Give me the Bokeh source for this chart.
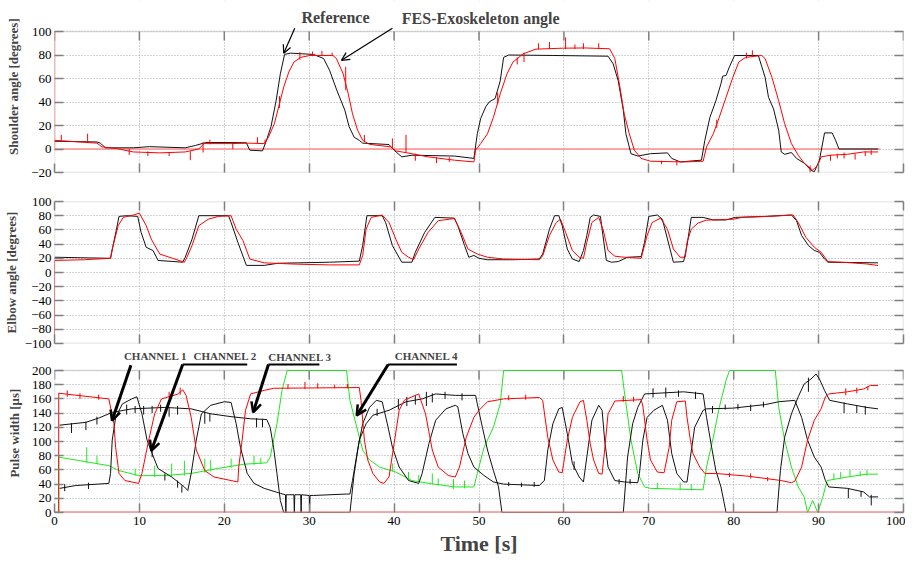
from bokeh.plotting import figure
from bokeh.models import Range1d, FixedTicker, LinearAxis, Label, Arrow, OpenHead, BoxAnnotation
from bokeh.layouts import column
from bokeh.embed import file_html
from bokeh.resources import INLINE

# ---------------- data ----------------
X_TICKS = [0, 10, 20, 30, 40, 50, 60, 70, 80, 90, 100]
SHOULDER_TICKS = [-20, 0, 20, 40, 60, 80, 100]
ELBOW_TICKS = [-100, -80, -60, -40, -20, 0, 20, 40, 60, 80, 100]
PULSE_TICKS = [0, 20, 40, 60, 80, 100, 120, 140, 160, 180, 200]

SHOULDER_T_REF = [0, 5, 5.4, 6, 9.3, 11.2, 15.4, 16.6, 17.8, 20.8, 22.6, 23, 24.5, 24.9, 25.5, 26.1, 26.6, 27.1, 27.8, 30.5,
                  31.7, 32.4, 33.2, 34.2, 34.7, 35.3, 35.9, 36.3, 39.4, 40, 40.9, 42.1, 47.1, 49.4, 49.8, 50.2, 50.8, 51.2,
                  51.9, 52.5, 52.9, 53.5, 58.7, 65.2, 65.8, 66.4, 67, 67.3, 67.9, 68.7, 70.2, 72.2, 72.7, 73.7, 76.2, 76.6,
                  77.2, 77.9, 78.5, 78.7, 79.1, 79.5, 80.1, 82.9, 83.7, 84.1, 84.7, 85.3, 85.6, 86, 86.8, 87.4, 88.3, 89.1,
                  89.5, 90.1, 90.7, 91.6, 92, 92.4, 97]
SHOULDER_V_REF = [6.6, 6, 5, 1, 1, 2, 1, 3, 5.5, 5.5, 5.3, -1, -1.6, 6, 19, 41, 64, 80.5, 81.6, 80.5, 77, 67, 51, 33, 19,
                  10, 7.4, 5, 3.8, -1, -6.7, -5.3, -6, -8, 13, 26, 36, 40, 43, 58, 78, 80, 79.6, 79, 72.5, 58, 33, 13, -4,
                  -6, -4, -3.3, -8, -11, -9.5, 7.4, 27, 41, 55.6, 62, 62.6, 70, 79.6, 79.6, 61, 44, 34, 16, -2.5, -4.5, -3,
                  -8, -12, -18, -19.4, -9.5, 13.7, 13.7, 7.4, 0, 0]

SHOULDER_T_FES = [0, 5, 5.6, 7.3, 9.3, 12.4, 15.4, 17, 17.6, 20.8, 22.8, 24.7, 25.2, 25.9, 26.4, 27, 27.6, 28.2, 29, 30.1,
                  32.8, 33.2, 34, 34.6, 35.1, 35.7, 36.3, 37.1, 39.6, 40.2, 42.1, 44, 47.1, 49.4, 49.6, 50.2, 51, 51.7,
                  52.5, 53.3, 54, 55.2, 56.7, 59.8, 62.5, 65.4, 66, 66.6, 67.1, 67.7, 68.3, 69.1, 70.2, 74.1, 76.4, 76.8,
                  77.6, 78.3, 79.1, 79.9, 80.6, 81.4, 83.3, 83.7, 84.5, 85.3, 86, 86.8, 87.6, 88.3, 89.3, 89.9, 90.3, 91.4,
                  93.4, 95.3, 97]
SHOULDER_V_FES = [7.4, 5, 1.8, 0.4, -2.5, -3.3, -2.5, 0, 4.6, 4.6, 5, 4.6, 10, 21.6, 35.7, 52.7, 65.5, 74, 78, 79.6, 79.6,
                  77, 64, 47, 30, 16, 7.4, 4, 1.8, -1.6, -4, -6.7, -9.5, -11, -1, 4.6, 13, 27, 47, 64, 74, 81, 85, 85.8,
                  86, 85.3, 77, 52.7, 30, 13, -1, -8, -10.4, -11, -10.4, 1.8, 13, 27, 44, 61, 74, 78, 79.6, 77, 61, 41,
                  21.6, 4.6, -5.3, -12, -18, -13.8, -6.7, -5.3, -4.5, -2.5, -2.5]
# sensor noise spikes on the FES trace: time, low end, high end
SHOULDER_SPK_T = [0.8, 3.9, 8.8, 11.0, 13.5, 16.0, 17.5, 18.3, 21.0, 23.9, 24.8, 26.5, 28.9, 30.4, 31.5, 32.7, 34.3, 36.5,
                  39.8, 41.4, 42.5, 45.0, 46.5, 52.2, 54.5, 55.3, 57.0, 58.3, 60.2, 61.3, 62.3, 64.1, 71.5, 73.3, 78.0,
                  81.5, 82.2, 89.0, 91.4, 92.2, 93.0, 94.3, 95.5, 96.2]
SHOULDER_SPK_LO = [7, 6, -5, -6, -6, -9.5, -3, 4, 0, 5, 4, 35, 76, 79, 79, 79, 50, 6, 0, -3, -10, -12, -11, 38, 72, 74, 85,
                   85, 85, 85, 85, 85, -13, -14, 18, 77, 79, -20, -10, -8, -8, -9, -6, -5]
SHOULDER_SPK_HI = [12, 13, 0, -2, -3, -2, 6, 8, 5, 10, 8, 45, 82.5, 83, 83.5, 82, 70, 12, 9, 12, -4, -7, -7, 48, 78, 82, 90,
                   91, 95, 89, 90, 90, -10, -10, 25, 82, 84, -14, -5, -4, -3, -4, -2, -1]

SHOULDER_BASE_T = [0, 0, 97.3]
SHOULDER_BASE_V = [100, 0, 0]

ELBOW_T_REF = [0, 6.6, 6.9, 7.3, 7.6, 8.5, 9.8, 10.2, 10.8, 11.6, 12.2, 15.1, 15.4, 16.2, 17, 20.5, 20.8, 21.6, 22.6, 24.7,
               26.3, 32.4, 35.9, 36.3, 36.8, 38.6, 39, 39.8, 40.9, 42.1, 42.5, 43.6, 44.8, 47.1, 47.5, 48.3, 48.8, 49.4,
               50, 51, 54, 57.1, 57.5, 58.3, 58.9, 59.4, 59.8, 60.4, 61, 61.8, 62.3, 62.7, 63.1, 63.5, 64.3, 64.6, 65,
               65.6, 66.4, 67.5, 69.1, 69.5, 70, 71, 71.6, 72.2, 72.9, 74.1, 74.5, 75, 76.4, 77.6, 79.1, 80.2, 83.7,
               86.8, 87.4, 88, 88.8, 89.5, 90.1, 90.7, 91.1, 97]
ELBOW_V_REF = [21.5, 20, 38, 61, 79, 80, 79, 56.5, 35.5, 31, 17, 14.5, 21.5, 47, 80, 80, 70.5, 42.5, 10, 10, 13, 14.5, 16,
               38, 80, 80, 70.5, 38, 14.5, 14.5, 28.5, 56.5, 77.6, 76.6, 66, 38, 21.5, 24, 20, 18, 18, 19, 26, 61, 80, 80,
               66, 33, 19, 15.4, 31, 52, 77.6, 81, 79, 52, 17, 14.5, 15.4, 21.5, 22.4, 42.5, 79, 81, 75, 47, 14.5, 15.4,
               38, 77.6, 77.6, 74, 74, 77.6, 79, 81, 73, 52, 38, 31, 28.5, 19, 14.5, 13.6]

ELBOW_T_FES = [0, 0, 3.5, 6.6, 6.8, 7.1, 7.5, 8.1, 9.3, 10, 10.8, 11.4, 12.4, 13.9, 15.3, 15.6, 16.2, 17, 18.1, 19.3, 20.8,
               21.4, 22.2, 23, 24.7, 28.6, 32.4, 35.9, 36.3, 36.7, 37.3, 38.6, 39.4, 40.2, 40.9, 41.7, 42.3, 42.9, 44,
               45.2, 47.1, 47.9, 48.7, 49.8, 51, 52.9, 57.1, 57.5, 58.3, 59.1, 59.6, 60.2, 61, 61.8, 62.3, 62.7, 63.3,
               64.1, 64.6, 65.2, 66, 67.1, 69.1, 69.8, 70.4, 71.4, 72.2, 72.9, 73.7, 74.3, 74.5, 75, 75.8, 76.8, 79.9,
               81, 84.1, 87, 87.6, 88.5, 89.5, 90.3, 91.1, 93.4, 95.7, 97]
ELBOW_V_FES = [-100, 17, 18, 20, 33, 47, 66, 77.6, 81, 83.6, 66, 47, 26, 20, 14.5, 21.5, 38, 66, 75, 79, 80, 61, 45, 19,
               13.6, 11.7, 10.7, 10.7, 23.8, 61, 77.6, 81, 70.5, 47, 28.5, 21.5, 18, 33, 56.5, 73, 76, 56.5, 33, 26, 21.5,
               19, 18, 23.5, 52, 70.5, 75, 56.5, 31, 21.5, 20, 42.5, 70.5, 77.6, 61, 31, 23, 21.5, 20, 52, 70.5, 76.6, 61,
               33, 21.5, 21.5, 42.5, 61, 69.6, 73.8, 75, 77.6, 79, 81, 70.5, 49.5, 35.5, 28.5, 15.4, 14, 12, 9.8]

PW_T_RED = [0.5, 0.5, 6.4, 7.0, 7.2, 7.6, 8.3, 9.9, 10.3, 11.1, 11.8, 12.6, 14.6, 15.1, 15.5, 16.1, 16.7, 17.7, 18.8, 20.8,
            21.6, 21.7, 22.1, 22.5, 23.1, 24.7, 25.8, 35.9, 36.1, 36.5, 36.9, 37.5, 38.3, 38.8, 39.4, 40, 40.6, 41.2,
            42.1, 42.9, 43.7, 44.5, 45.2, 46.4, 47.2, 47.7, 48.5, 49.4, 50, 51, 52.9, 57.1, 57.5, 58.1, 58.7, 59.4,
            59.8, 60.4, 61, 61.9, 62.3, 62.7, 63.1, 63.5, 64.1, 64.5, 64.8, 65.2, 66, 69.1, 69.3, 69.8, 70.2, 71, 71.8,
            72.4, 72.7, 73.3, 74.3, 74.5, 74.9, 75.2, 76, 76.6, 77.9, 81.8, 85.6, 86.8, 87.2, 88, 88.7, 89.5, 90.3,
            90.8, 91.2, 93.4, 95.3, 96.1, 97]
PW_V_RED = [0, 168, 160, 125, 92, 55, 45, 41, 55, 102, 139, 160, 167, 173, 165, 134, 88, 59, 50, 45, 43, 64, 102, 144, 167,
            172, 175, 176, 158, 102, 74, 55, 43, 41, 50, 97, 144, 158, 163, 167, 139, 88, 64, 52, 50, 64, 106, 134, 144,
            156, 160, 162, 158, 106, 74, 57, 56, 102, 134, 156, 158, 130, 97, 74, 55, 54, 88, 139, 157, 159, 150, 102,
            74, 57, 56, 92, 130, 156, 157, 134, 102, 83, 64, 55, 55, 51, 45, 42, 44, 64, 102, 130, 146, 163, 167, 170,
            174, 179, 179]
PW_RED_SPK_T = [1.5, 3.0, 5.2, 13.5, 14.8, 27.5, 29.5, 31.0, 33.0, 34.5, 53.5, 55.5, 67.0, 68.2, 79.5, 82.0, 84.0, 93.2,
                94.5, 95.8]
PW_RED_SPK_LO = [163, 160, 159, 162, 166, 174, 174, 175, 175, 175, 158, 159, 156, 156, 50, 48, 44, 165, 168, 172]
PW_RED_SPK_HI = [172, 168, 166, 170, 176, 181, 184, 182, 180, 181, 165, 166, 164, 163, 56, 55, 50, 175, 176, 178]

PW_T_GRN = [0.5, 0.5, 6.4, 7.6, 9.9, 13, 16.1, 19.2, 22.3, 25, 25.4, 26.2, 26.8, 27.4, 34.4, 34.8, 35.5, 36.3, 37.1, 38.3,
            40.2, 42.1, 44.1, 47.2, 49.4, 49.8, 50.6, 51.7, 52.5, 52.9, 66.8, 67.1, 67.9, 68.7, 69.5, 70.2, 76.4, 76.8,
            77.6, 78.3, 79.1, 79.5, 84.9, 85.3, 86, 86.8, 87.6, 88.3, 88.7, 89.3, 89.9, 90.5, 91, 93.4, 95.7, 97]
PW_V_GRN = [0, 78, 66, 59, 52, 52, 55, 62, 68, 70, 78, 125, 172, 200, 200, 158, 125, 88, 74, 64, 57, 45, 41, 36, 36, 55,
            92, 120, 153, 200, 200, 172, 102, 55, 36, 34, 32, 64, 106, 148, 186, 200, 200, 148, 102, 64, 36, 22, 0, 17,
            0, 22, 45, 50, 54, 54]
PW_GRN_SPK_T = [3.8, 5.0, 9.5, 11.8, 13.8, 15.3, 17.7, 18.4, 20.8, 23.5, 24.3, 39.8, 41.7, 42.9, 44.5, 45.2, 47.0, 48.3,
                71.0, 73.7, 75.0, 91.8, 92.6, 93.7, 94.9, 95.7]
PW_GRN_SPK_LO = [70, 68, 52, 50, 50, 52, 56, 58, 63, 67, 68, 58, 46, 43, 40, 38, 33, 34, 33, 32, 32, 46, 48, 50, 51, 52]
PW_GRN_SPK_HI = [92, 80, 62, 66, 69, 73, 76, 74, 76, 80, 77, 69, 57, 53, 55, 48, 47, 45, 42, 42, 40, 55, 57, 60, 58, 60]

PW_T_BKA = [0.6, 3.7, 5.2, 6.8, 9.1, 13, 16.1, 18.4, 20.8, 23.1, 25, 25.4, 25.8, 26.2, 26.6, 27, 34.8, 35.3, 35.9, 36.7,
            37.5, 39.4, 41.4, 43.3, 44.9, 47.2, 49.6, 49.8, 50.4, 51, 51.7, 52.3, 52.7, 67, 67.5, 68.1, 68.7, 69.5,
            74.1, 76.4, 76.8, 77.4, 77.9, 78.5, 79.1, 85.1, 85.5, 86, 86.8, 87.6, 88.3, 89.1, 89.7, 90.1, 90.7, 91.3,
            93.4, 95.7, 97]
PW_V_BKA = [123, 127, 133, 141, 146, 148, 146, 139, 135, 132, 131, 120, 92, 55, 17, 0, 0, 55, 102, 125, 137, 144, 156, 160,
            167, 165, 165, 153, 120, 88, 59, 36, 0, 0, 78, 125, 148, 167, 170, 167, 134, 92, 59, 36, 0, 0, 59, 106, 139,
            163, 181, 188, 195, 188, 172, 158, 153, 148, 146]
PW_BKA_SPK_T = [2.0, 3.7, 5.0, 8.5, 9.5, 10.5, 11.5, 12.5, 13.5, 14.5, 17.7, 18.3, 23.8, 24.5, 38.0, 40.5, 41.5, 42.5,
                43.8, 44.5, 46.0, 48.0, 70.5, 72.0, 73.5, 75.5, 80.5, 82.0, 83.5, 88.8, 93.0, 94.5, 95.5]
PW_BKA_SPK_LO = [112, 116, 124, 138, 140, 138, 140, 142, 135, 138, 125, 128, 120, 120, 136, 145, 150, 152, 150, 155, 160,
                 158, 162, 162, 163, 160, 145, 143, 148, 170, 140, 140, 138]
PW_BKA_SPK_HI = [126, 128, 135, 152, 150, 150, 150, 152, 148, 150, 142, 140, 133, 132, 146, 160, 163, 165, 170, 168, 170,
                 168, 175, 176, 172, 170, 153, 152, 156, 190, 155, 150, 150]

PW_T_BKB = [0.6, 2.5, 6.4, 6.6, 6.8, 7.2, 8, 9.1, 9.7, 10.3, 10.9, 11.5, 12.2, 13.8, 15.3, 15.7, 16.1, 16.7, 17.3, 18.4,
            20, 20.8, 21.4, 21.9, 22.7, 23.5, 24.7, 26.6, 27.2, 27.25, 27.3, 28.2, 28.25, 28.3, 29.0, 29.05, 29.1, 30.0,
            30.05, 30.1, 30.5, 34.4, 34.8, 35.1, 35.7, 36.3, 37.1, 37.9, 38.6, 39.2, 39.8, 40.6, 41.7, 42.9, 43.3,
            44.1, 44.9, 46.1, 47.2, 47.5, 48.1, 48.7, 49.4, 50.6, 51.7, 52.9, 57.1, 57.7, 58.1, 58.7, 59.4, 59.8, 60.4,
            61, 61.8, 62.3, 62.7, 63.3, 64.1, 64.5, 64.8, 65.2, 66, 67.1, 68.7, 68.9, 69.3, 69.8, 70.6, 71.6, 72.2,
            72.7, 73.3, 74.1, 74.5, 74.9, 75.4, 76.4, 76.8, 79.9, 83.7, 85.3, 87.2, 88, 88.7, 89.5, 90.3, 90.8, 91.2,
            93.4, 95.3, 96, 97]
PW_V_BKB = [34, 38, 41, 55, 102, 134, 153, 160, 163, 139, 102, 83, 62, 50, 36, 31, 55, 102, 139, 151, 156, 155, 125, 92,
            55, 41, 34, 27, 25, 0, 25, 25, 0, 25, 25, 0, 25, 24, 0, 24, 24, 26, 26, 45, 88, 125, 148, 158, 156, 125, 92,
            64, 45, 41, 55, 97, 130, 146, 151, 149, 111, 83, 64, 52, 43, 40, 38, 45, 88, 125, 146, 148, 111, 69, 50, 43,
            78, 130, 151, 144, 102, 64, 45, 43, 42, 55, 102, 134, 144, 151, 130, 83, 55, 43, 43, 78, 120, 144, 146, 147,
            152, 156, 158, 134, 102, 78, 64, 45, 36, 34, 29, 22, 22]
PW_BKB_SPK_T = [1.2, 4.0, 11.5, 13.0, 14.5, 15.0, 53.5, 55.0, 56.5, 61.2, 66.5, 67.8, 77.5, 79.0, 93.5, 95.0, 96.2]
PW_BKB_SPK_LO = [30, 33, 78, 45, 35, 28, 37, 36, 36, 60, 40, 40, 140, 145, 20, 22, 10]
PW_BKB_SPK_HI = [40, 42, 90, 55, 45, 38, 43, 42, 43, 72, 47, 47, 150, 152, 34, 30, 25]

PW_BASE_T = [0, 100]
PW_BASE_V = [0, 0]

for a, b in [(SHOULDER_T_REF, SHOULDER_V_REF), (SHOULDER_T_FES, SHOULDER_V_FES), (ELBOW_T_REF, ELBOW_V_REF),
             (ELBOW_T_FES, ELBOW_V_FES), (PW_T_RED, PW_V_RED), (PW_T_GRN, PW_V_GRN), (PW_T_BKA, PW_V_BKA),
             (PW_T_BKB, PW_V_BKB), (SHOULDER_SPK_T, SHOULDER_SPK_LO), (SHOULDER_SPK_T, SHOULDER_SPK_HI),
             (PW_RED_SPK_T, PW_RED_SPK_LO), (PW_RED_SPK_T, PW_RED_SPK_HI), (PW_GRN_SPK_T, PW_GRN_SPK_LO),
             (PW_GRN_SPK_T, PW_GRN_SPK_HI), (PW_BKA_SPK_T, PW_BKA_SPK_LO), (PW_BKA_SPK_T, PW_BKA_SPK_HI),
             (PW_BKB_SPK_T, PW_BKB_SPK_LO), (PW_BKB_SPK_T, PW_BKB_SPK_HI)]:
    if len(a) != len(b):
        raise ValueError(f"length mismatch {len(a)} vs {len(b)}: {a[:3]} / {b[:3]}")

# ---------------- styling ----------------
SERIF = "Liberation Serif"
FRAME = "#808080"
GRID = "#a8a8a8"
RED = "#ff0000"
BLACK = "#111111"
GREEN = "#1ee81e"
W = 905
BL, BR = 47, 2
TICK_PX = 9


def style_axis(ax, ticks, show_labels):
    ax.ticker = FixedTicker(ticks=ticks)
    ax.axis_line_color = None
    ax.major_tick_in = TICK_PX
    ax.major_tick_out = 0
    ax.major_tick_line_color = FRAME
    ax.major_tick_line_width = 1.5
    ax.minor_tick_line_color = None
    ax.major_label_text_font = SERIF
    ax.major_label_text_color = "#000000"
    if show_labels:
        ax.major_label_text_font_size = "13px"
        ax.major_label_standoff = 3
    else:
        ax.major_label_text_font_size = "0px"
        ax.major_label_standoff = 0


def make_fig(height, box, yr, yticks, ylabel, btop, bbottom, lab_standoff, show_x, top_axis):
    """box = (ymin, ymax) of the drawn panel; yr = full y range of the frame (may reach above the box)."""
    p = figure(width=W, height=height, x_range=Range1d(0, 100), y_range=Range1d(*yr),
               output_backend="svg", toolbar_location=None,
               min_border_left=BL, min_border_right=BR, min_border_top=btop, min_border_bottom=bbottom)
    p.outline_line_color = None
    xb = p.below[0]
    yl = p.left[0]
    style_axis(xb, X_TICKS, show_x)
    style_axis(yl, yticks, True)
    yl.bounds = box
    right = LinearAxis()
    style_axis(right, yticks, False)
    right.bounds = box
    p.add_layout(right, "right")
    if top_axis:
        top = LinearAxis()
        style_axis(top, X_TICKS, False)
        p.add_layout(top, "above")
    yl.axis_label = ylabel
    yl.axis_label_text_font = SERIF
    yl.axis_label_text_font_style = "bold"
    yl.axis_label_text_font_size = "13px"
    yl.axis_label_standoff = lab_standoff
    for g in (p.xgrid[0], p.ygrid[0]):
        g.grid_line_color = GRID
        g.grid_line_dash = "1 2"
        g.grid_line_width = 1
    p.xgrid[0].ticker = FixedTicker(ticks=X_TICKS)
    p.ygrid[0].ticker = FixedTicker(ticks=yticks)
    if yr[1] > box[1]:
        # white area above the panel box (hides the grid there), panel ticks along the box top
        p.add_layout(BoxAnnotation(left=0, right=100, bottom=box[1], top=yr[1], fill_color="white", fill_alpha=1,
                                   line_color=None, level="underlay"))
        per_px = (yr[1] - yr[0]) / (height - btop - bbottom)
        p.segment(x0=X_TICKS, y0=[box[1]] * len(X_TICKS), x1=X_TICKS,
                  y1=[box[1] - TICK_PX * per_px] * len(X_TICKS), line_color=FRAME, line_width=1.5)
    p.add_layout(BoxAnnotation(left=0, right=100, bottom=box[0], top=box[1], fill_alpha=0, fill_color=None,
                               line_color=FRAME, line_width=1.5))
    return p, xb


def trace(p, t, v, color, spk=None, width=1):
    p.line(t, v, line_color=color, line_width=width)
    if spk is not None:
        st, lo, hi = spk
        p.segment(x0=st, y0=lo, x1=st, y1=hi, line_color=color, line_width=1)


# ---------------- shoulder (frame reaches to the top of the page for its annotations) ----------------
p1, _ = make_fig(182, (-20, 100), (-20, 126.4), SHOULDER_TICKS, "Shoulder angle [degrees]", 0, 10, 7, False, False)
p1.line(SHOULDER_BASE_T, SHOULDER_BASE_V, line_color="#ff8c8c", line_width=1.5)
trace(p1, SHOULDER_T_REF, SHOULDER_V_REF, BLACK)
trace(p1, SHOULDER_T_FES, SHOULDER_V_FES, RED, (SHOULDER_SPK_T, SHOULDER_SPK_LO, SHOULDER_SPK_HI))

p1.add_layout(Label(x=33.1, y=112.2, text="Reference", text_font=SERIF, text_font_style="bold",
                    text_font_size="16px", text_align="center", text_baseline="middle"))
p1.add_layout(Label(x=50.2, y=111.3, text="FES-Exoskeleton angle", text_font=SERIF, text_font_style="bold",
                    text_font_size="16px", text_align="center", text_baseline="middle"))
for x1, y1, x2, y2 in [(28.3, 102.8, 27.0, 81.5), (39.8, 102.8, 33.8, 75.5)]:
    p1.add_layout(Arrow(end=OpenHead(size=8, line_width=1.2), x_start=x1, y_start=y1, x_end=x2, y_end=y2,
                        line_width=1.2))

# ---------------- elbow ----------------
p2, _ = make_fig(168, (-100, 100), (-100, 100), ELBOW_TICKS, "Elbow angle [degrees]", 19, 7, 3, False, True)
trace(p2, ELBOW_T_REF, ELBOW_V_REF, BLACK)
trace(p2, ELBOW_T_FES, ELBOW_V_FES, RED)

# ---------------- pulse width (frame reaches up to hold the channel labels) ----------------
p3, xb3 = make_fig(208, (0, 200), (0, 228.2), PULSE_TICKS, "Pulse width  [\u03bcs]", 0, 46, 7, True, False)
xb3.axis_label = "Time [s]"
xb3.axis_label_text_font = SERIF
xb3.axis_label_text_font_style = "bold"
xb3.axis_label_text_font_size = "22px"
xb3.axis_label_standoff = 3
xb3.major_label_standoff = 4

trace(p3, PW_T_GRN, PW_V_GRN, GREEN, (PW_GRN_SPK_T, PW_GRN_SPK_LO, PW_GRN_SPK_HI))
trace(p3, PW_T_BKA, PW_V_BKA, BLACK, (PW_BKA_SPK_T, PW_BKA_SPK_LO, PW_BKA_SPK_HI))
trace(p3, PW_T_BKB, PW_V_BKB, BLACK, (PW_BKB_SPK_T, PW_BKB_SPK_LO, PW_BKB_SPK_HI))
trace(p3, PW_T_RED, PW_V_RED, RED, (PW_RED_SPK_T, PW_RED_SPK_LO, PW_RED_SPK_HI))
p3.line(PW_BASE_T, PW_BASE_V, line_color="#ff6060", line_width=2)

for txt, xc, yc in [("CHANNEL 1", 11.9, 221), ("CHANNEL 2", 20.1, 221), ("CHANNEL 3", 28.9, 219.5),
                    ("CHANNEL 4", 43.8, 221)]:
    p3.add_layout(Label(x=xc, y=yc, text=txt, text_font=SERIF, text_font_style="bold", text_font_size="11px",
                        text_align="center", text_baseline="middle"))

for xs, x1, y1, x2, y2 in [(None, 9.0, 207.5, 6.78, 129.5), (22.7, 15.1, 208.5, 11.4, 87),
                           (31.2, 25.2, 208.5, 23.4, 141), (47.4, 39.3, 208.5, 35.6, 136.6)]:
    if xs is not None:
        p3.add_layout(Arrow(end=None, x_start=xs, y_start=y1, x_end=x1, y_end=y1, line_width=2))
    p3.add_layout(Arrow(end=OpenHead(size=10, line_width=2.5), x_start=x1, y_start=y1, x_end=x2, y_end=y2,
                        line_width=3))

layout = column(p1, p2, p3, spacing=0)
open("out.html", "w").write(file_html(layout, INLINE))
